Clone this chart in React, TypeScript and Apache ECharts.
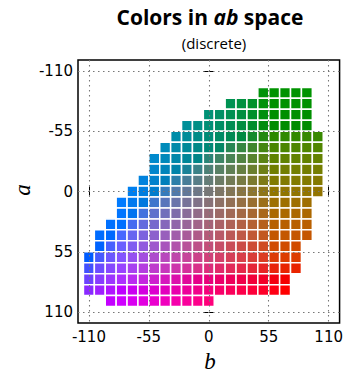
import React, { useEffect, useRef } from "react";
import * as echarts from "echarts";

// Rows of the discrete ab grid (a value) and the b range covered in each row
const A_ROWS = [-90, -80, -70, -60, -50, -40, -30, -20, -10, 0, 10, 20, 30, 40, 50, 60, 70, 80, 90, 100];
const B_MIN = [50, 20, 0, -20, -30, -40, -50, -50, -60, -70, -80, -80, -90, -100, -100, -110, -110, -110, -110, -90];
const B_MAX = [90, 90, 90, 90, 100, 100, 100, 100, 100, 100, 90, 90, 90, 90, 80, 80, 80, 70, 70, 0];
const STEP = 10;
const L_VALUE = 50;
const TICKS = [-110, -55, 0, 55, 110];

function labToHex(L: number, a: number, b: number): string {
  const fy = (L + 16) / 116;
  const fx = fy + a / 500;
  const fz = fy - b / 200;
  const inv = (t: number) => (t > 6 / 29 ? t * t * t : 3 * (6 / 29) * (6 / 29) * (t - 4 / 29));
  const X = 0.95047 * inv(fx);
  const Y = 1.0 * inv(fy);
  const Z = 1.08883 * inv(fz);
  const rl = 3.2406 * X - 1.5372 * Y - 0.4986 * Z;
  const gl = -0.9689 * X + 1.8758 * Y + 0.0415 * Z;
  const bl = 0.0557 * X - 0.204 * Y + 1.057 * Z;
  const gam = (c: number) => {
    const v = c <= 0.0031308 ? 12.92 * c : 1.055 * Math.pow(Math.max(c, 0), 1 / 2.4) - 0.055;
    return Math.round(Math.min(1, Math.max(0, v)) * 255);
  };
  const h = (n: number) => n.toString(16).padStart(2, "0");
  return "#" + h(gam(rl)) + h(gam(gl)) + h(gam(bl));
}

export default function App() {
  const ref = useRef<HTMLDivElement>(null);
  useEffect(() => {
    if (!ref.current) return;
    const chart = echarts.init(ref.current, undefined, { renderer: "svg" });

    const cells: number[][] = [];
    const colors: string[] = [];
    A_ROWS.forEach((a, i) => {
      for (let b = B_MIN[i]; b <= B_MAX[i]; b += STEP) {
        cells.push([b, a]);
        colors.push(labToHex(L_VALUE, a, b));
      }
    });

    const tickFont = { fontSize: 15, color: "#000", fontFamily: "DejaVu Sans" };

    chart.setOption({
      animation: false,
      backgroundColor: "#fff",
      title: [
        {
          text: "{n|Colors in }{i|ab}{n| space}",
          left: 205,
          top: 1,
          textAlign: "center",
          textStyle: {
            rich: {
              n: { fontSize: 21, fontWeight: "bold", fontFamily: "Open Sans", color: "#000" },
              i: { fontSize: 21, fontWeight: "bold", fontStyle: "italic", fontFamily: "Open Sans", color: "#000" },
            },
          },
        },
        {
          text: "(discrete)",
          left: 209,
          top: 30,
          textAlign: "center",
          textStyle: { fontSize: 15, fontWeight: "normal", fontFamily: "Open Sans", color: "#000" },
        },
      ],
      grid: {
        left: 78,
        right: 4,
        top: 60,
        bottom: 52,
        show: true,
        borderColor: "#000",
        borderWidth: 1.5,
        backgroundColor: "transparent",
      },
      xAxis: [
        {
          type: "value",
          min: -120,
          max: 120,
          position: "bottom",
          axisLine: { show: false },
          axisTick: { show: true, inside: true, length: 5, customValues: TICKS, lineStyle: { color: "#000" } },
          axisLabel: { ...tickFont, margin: 6, customValues: TICKS },
          splitLine: { show: false },
        },
        {
          type: "value",
          min: -120,
          max: 120,
          position: "top",
          axisLine: { show: false },
          axisTick: { show: true, inside: true, length: 5, customValues: TICKS, lineStyle: { color: "#000" } },
          axisLabel: { show: false },
          splitLine: { show: false },
        },
      ],
      yAxis: [
        {
          type: "value",
          min: -120,
          max: 120,
          inverse: true,
          position: "left",
          axisLine: { show: false },
          axisTick: { show: true, inside: true, length: 5, customValues: TICKS, lineStyle: { color: "#000" } },
          axisLabel: { ...tickFont, margin: 5, customValues: TICKS },
          splitLine: { show: false },
        },
        {
          type: "value",
          min: -120,
          max: 120,
          inverse: true,
          position: "right",
          axisLine: { show: false },
          axisTick: { show: true, inside: true, length: 5, customValues: TICKS, lineStyle: { color: "#000" } },
          axisLabel: { show: false },
          splitLine: { show: false },
        },
      ],
      graphic: [
        {
          type: "text",
          x: 22,
          y: 190,
          rotation: Math.PI / 2,
          style: {
            text: "a",
            fontSize: 23,
            fontStyle: "italic",
            fontFamily: "Liberation Serif",
            fill: "#000",
            align: "center",
            verticalAlign: "middle",
            textAlign: "center",
            textVerticalAlign: "middle",
          },
        },
        {
          type: "text",
          x: 210,
          y: 361,
          style: {
            text: "b",
            fontSize: 23,
            fontStyle: "italic",
            fontFamily: "Liberation Serif",
            fill: "#000",
            align: "center",
            verticalAlign: "middle",
            textAlign: "center",
            textVerticalAlign: "middle",
          },
        },
      ],
      series: [
        {
          type: "custom",
          xAxisIndex: 0,
          yAxisIndex: 0,
          z: 2,
          data: cells,
          renderItem: (params: any, api: any) => {
            const b = api.value(0);
            const a = api.value(1);
            const p0 = api.coord([b - STEP / 2, a - STEP / 2]);
            const p1 = api.coord([b + STEP / 2, a + STEP / 2]);
            return {
              type: "rect",
              shape: {
                x: Math.min(p0[0], p1[0]),
                y: Math.min(p0[1], p1[1]),
                width: Math.abs(p1[0] - p0[0]),
                height: Math.abs(p1[1] - p0[1]),
              },
              style: { fill: colors[params.dataIndex], stroke: "#fff", lineWidth: 1.5 },
            };
          },
          markLine: {
            silent: true,
            symbol: ["none", "none"],
            label: { show: false },
            z: 5,
            lineStyle: { type: [1.5, 3.5], color: "#777", width: 1.1 },
            data: [...TICKS.map((v) => ({ xAxis: v })), ...TICKS.map((v) => ({ yAxis: v }))],
          },
        },
      ],
    });
    return () => chart.dispose();
  }, []);
  return (
    <div
      ref={ref}
      style={{ position: "fixed", left: 0, top: 0, width: 346, height: 375 }}
    />
  );
}
